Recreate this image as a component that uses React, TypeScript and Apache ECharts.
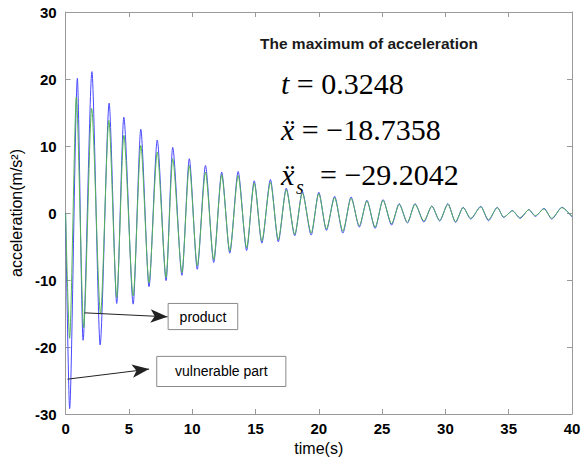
import React, { useEffect, useRef } from "react";
import * as echarts from "echarts";

// vulnerable part (blue): extrema
const blueTime = [0, 0.32, 0.93, 1.38, 2.08, 2.73, 3.44, 4.04, 4.6, 5.34, 5.94, 6.59, 7.24, 7.94, 8.46, 9.19, 9.77, 10.4, 11.05, 11.7, 12.33, 12.97, 13.63, 14.3, 14.9, 15.5, 16.18, 16.8, 17.43, 18.1, 18.7, 19.4, 20.0, 20.6, 21.25, 21.9, 22.55, 23.2, 23.8, 24.45, 25.07, 25.75, 26.35, 27.0, 27.6, 28.3, 28.93, 29.55, 30.2, 30.8, 31.4, 32.0, 32.8, 33.4, 34.1, 34.6, 35.3, 35.9, 36.6, 37.1, 37.8, 38.4, 39.2, 40];
const blueAcc = [0, -29.2, 20.1, -19.0, 21.1, -19.7, 16.4, -13.5, 14.3, -13.6, 12.5, -11.0, 10.9, -10.1, 9.8, -9.3, 8.1, -8.4, 7.1, -7.4, 6.1, -6.0, 6.2, -5.6, 4.8, -4.5, 5.0, -4.3, 3.7, -3.4, 3.2, -3.3, 3.1, -2.6, 2.5, -3.0, 2.4, -2.1, 1.9, -2.3, 2.0, -1.8, 1.4, -1.5, 1.4, -1.35, 1.05, -1.2, 1.4, -1.4, 0.85, -0.9, 1.0, -1.15, 0.85, -0.65, 0.35, -0.8, 0.5, -0.5, 0.7, -0.9, 0.85, -0.6];

// product (green)
const greenTime = [0, 0.32, 0.85, 1.43, 2.06, 2.76, 3.42, 4.04, 4.6, 5.34, 5.94, 6.59, 7.24, 7.94, 8.46, 9.19, 9.77, 10.4, 11.05, 11.7, 12.33, 12.97, 13.63, 14.3, 14.9, 15.5, 16.18, 16.8, 17.43, 18.1, 18.7, 19.4, 20.0, 20.6, 21.25, 21.9, 22.55, 23.2, 23.8, 24.45, 25.07, 25.75, 26.35, 27.0, 27.6, 28.3, 28.93, 29.55, 30.2, 30.8, 31.4, 32.0, 32.8, 33.4, 34.1, 34.6, 35.3, 35.9, 36.6, 37.1, 37.8, 38.4, 39.2, 40];
const greenAcc = [0, -18.7, 17.3, -17.1, 15.6, -15.1, 13.8, -12.6, 11.6, -12.4, 10.1, -10.4, 9.1, -9.6, 8.1, -8.9, 7.1, -7.9, 6.1, -7.0, 5.7, -5.7, 5.6, -5.2, 4.5, -4.2, 4.6, -4.0, 3.5, -3.2, 3.0, -3.0, 2.9, -2.4, 2.3, -2.7, 2.2, -1.9, 1.8, -2.1, 1.9, -1.6, 1.3, -1.4, 1.3, -1.2, 1.0, -1.1, 1.3, -1.3, 0.8, -0.8, 0.9, -1.0, 0.8, -0.6, 0.3, -0.7, 0.5, -0.4, 0.6, -0.8, 0.8, -0.5];

const xTicks = { min: 0, max: 40, interval: 5 };
const yTicks = { min: -30, max: 30, interval: 10 };

// annotation anchors (data coordinates)
const productArrow = [[1.5, -14.9], [8.05, -15.5]];
const productBox = [[8.1, -13.5], [13.6, -17.4]];
const vulnArrow = [[0.15, -24.8], [6.6, -23.3]];
const vulnBox = [[7.2, -21.4], [17.4, -25.9]];

const SANS = "'Liberation Sans', Arial, sans-serif";
const SERIF = "'Liberation Serif', 'Times New Roman', 'DejaVu Serif', serif";

export default function App() {
  const ref = useRef<HTMLDivElement>(null);
  useEffect(() => {
    document.body.style.margin = "0";
    if (!ref.current) return;
    const chart = echarts.init(ref.current, null, { renderer: "svg" });
    const axisColor = "#9a9a9a";
    const blueData = blueTime.map((t, i) => [t, blueAcc[i]]);
    const greenData = greenTime.map((t, i) => [t, greenAcc[i]]);
    const commonX = {
      type: "value" as const,
      min: xTicks.min,
      max: xTicks.max,
      interval: xTicks.interval,
      splitLine: { show: false },
      axisLine: { show: true, onZero: false, lineStyle: { color: axisColor, width: 1 } },
      axisTick: { show: true, inside: true, length: 5, lineStyle: { color: axisColor } },
    };
    const commonY = {
      type: "value" as const,
      min: yTicks.min,
      max: yTicks.max,
      interval: yTicks.interval,
      splitLine: { show: false },
      axisLine: { show: true, onZero: false, lineStyle: { color: axisColor, width: 1 } },
      axisTick: { show: true, inside: true, length: 5, lineStyle: { color: axisColor } },
    };
    const eqStyle = (text: string) => ({
      text,
      font: `30px ${SERIF}`,
      fill: "#000",
      rich: { i: { fontStyle: "italic", fontSize: 30, fontFamily: SERIF } },
    });
    chart.setOption({
      animation: false,
      backgroundColor: "#ffffff",
      grid: { left: 60, right: 15, top: 12, bottom: 49 },
      xAxis: [
        {
          ...commonX,
          position: "bottom",
          name: "time(s)",
          nameLocation: "middle",
          nameGap: 26,
          nameTextStyle: { fontFamily: SANS, fontSize: 16, color: "#000" },
          axisLabel: { fontFamily: SANS, fontSize: 15, fontWeight: "bold", color: "#000", margin: 7 },
        },
        { ...commonX, position: "top", axisLabel: { show: false } },
      ],
      yAxis: [
        {
          ...commonY,
          position: "left",
          name: "acceleration(m/s²)",
          nameLocation: "middle",
          nameGap: 30,
          nameTextStyle: { fontFamily: SANS, fontSize: 16, color: "#000" },
          axisLabel: { fontFamily: SANS, fontSize: 15, fontWeight: "bold", color: "#000", margin: 9 },
        },
        { ...commonY, position: "right", axisLabel: { show: false } },
      ],
      series: [
        {
          name: "vulnerable part",
          type: "line",
          data: blueData,
          showSymbol: false,
          smooth: 0.25,
          smoothMonotone: "x",
          lineStyle: { color: "#4a4aff", width: 1 },
          z: 2,
          markLine: {
            silent: true,
            symbol: ["none", "arrow"],
            symbolSize: [10, 17],
            label: { show: false },
            lineStyle: { color: "#222", width: 1, type: "solid" },
            data: [
              [{ coord: productArrow[0] }, { coord: productArrow[1] }],
              [{ coord: vulnArrow[0] }, { coord: vulnArrow[1] }],
            ],
          },
          markArea: {
            silent: true,
            itemStyle: { color: "#ffffff", borderColor: "#8a8a8a", borderWidth: 1 },
            label: { show: true, position: "inside", fontFamily: SANS, fontSize: 14, color: "#000" },
            data: [
              [{ name: "product", coord: productBox[0] }, { coord: productBox[1] }],
              [{ name: "vulnerable part", coord: vulnBox[0] }, { coord: vulnBox[1] }],
            ],
          },
        },
        {
          name: "product",
          type: "line",
          data: greenData,
          showSymbol: false,
          smooth: 0.25,
          smoothMonotone: "x",
          lineStyle: { color: "#55b455", width: 1 },
          z: 3,
        },
      ],
      graphic: [
        {
          type: "text",
          left: 260,
          top: 35,
          style: { text: "The maximum of acceleration", font: `bold 15.5px ${SANS}`, fill: "#1a1a1a" },
        },
        { type: "text", left: 281, top: 68, style: eqStyle("{i|t} = 0.3248") },
        { type: "text", left: 281, top: 114, style: eqStyle("{i|ẍ} = −18.7358") },
        { type: "text", left: 281, top: 159, style: eqStyle("{i|ẍ}") },
        {
          type: "text",
          left: 296,
          top: 177,
          style: { text: "s", font: `italic 20px ${SERIF}`, fill: "#000" },
        },
        { type: "text", left: 320, top: 159, style: eqStyle("= −29.2042") },
      ],
    });
    return () => chart.dispose();
  }, []);
  return <div ref={ref} style={{ width: 587, height: 463 }} />;
}
